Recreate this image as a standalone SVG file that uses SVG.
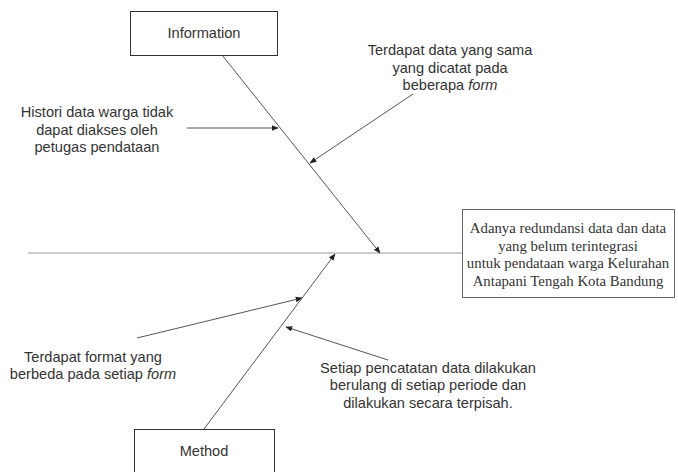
<svg xmlns="http://www.w3.org/2000/svg" width="678" height="472" viewBox="0 0 678 472">
<defs>
<marker id="ah" viewBox="0 0 10 10" refX="9" refY="5" markerWidth="7" markerHeight="7" markerUnits="userSpaceOnUse" orient="auto">
<path d="M0,1 L10,5 L0,9 Z" fill="#222"/>
</marker>
</defs>
<style>
.sans{font-family:"Liberation Sans",Arial,sans-serif;font-size:14.6px;fill:#333;text-anchor:middle}
.serif{font-family:"Liberation Serif","Times New Roman",serif;font-size:14.8px;fill:#333;text-anchor:middle}
.box{fill:#fff;stroke:#333;stroke-width:1}
.ln{stroke:#555;stroke-width:1;fill:none}
.arr{stroke:#555;stroke-width:1;fill:none;marker-end:url(#ah)}
</style>
<rect width="678" height="472" fill="#fff"/>
<g id="connectors">
<line class="ln" x1="28" y1="253" x2="462" y2="253" style="stroke:#999"/>
<line class="arr" x1="222" y1="55" x2="380" y2="253"/>
<line class="arr" x1="204" y1="429" x2="335" y2="254"/>
<line class="arr" x1="187" y1="128" x2="278" y2="128"/>
<line class="arr" x1="413" y1="94" x2="310" y2="163"/>
<line class="arr" x1="137" y1="338" x2="302" y2="298"/>
<line class="arr" x1="388" y1="360" x2="286" y2="327"/>
</g>
<g id="information">
<rect class="box" x="130.5" y="11.5" width="147" height="44"/>
<text class="sans" x="204" y="38">Information</text>
</g>
<g id="method">
<rect class="box" x="134.5" y="429.5" width="140" height="50"/>
<text class="sans" x="204" y="456">Method</text>
</g>
<g id="effect">
<rect class="box" x="462.5" y="209.5" width="212" height="88" style="stroke:#666"/>
<text class="serif" x="568" y="233">Adanya redundansi data dan data</text>
<text class="serif" x="568" y="251">yang belum terintegrasi</text>
<text class="serif" x="568" y="268">untuk pendataan warga Kelurahan</text>
<text class="serif" x="568" y="286">Antapani Tengah Kota Bandung</text>
</g>
<g id="cause-histori">
<text class="sans" x="97" y="117">Histori data warga tidak</text>
<text class="sans" x="97" y="135">dapat diakses oleh</text>
<text class="sans" x="97" y="152">petugas pendataan</text>
</g>
<g id="cause-sama">
<text class="sans" x="450" y="55">Terdapat data yang sama</text>
<text class="sans" x="450" y="73">yang dicatat pada</text>
<text class="sans" x="450" y="90">beberapa <tspan font-style="italic">form</tspan></text>
</g>
<g id="cause-format">
<text class="sans" x="93" y="362">Terdapat format yang</text>
<text class="sans" x="93" y="379">berbeda pada setiap <tspan font-style="italic">form</tspan></text>
</g>
<g id="cause-periode">
<text class="sans" x="428" y="373">Setiap pencatatan data dilakukan</text>
<text class="sans" x="428" y="390">berulang di setiap periode dan</text>
<text class="sans" x="428" y="408">dilakukan secara terpisah.</text>
</g>
</svg>
